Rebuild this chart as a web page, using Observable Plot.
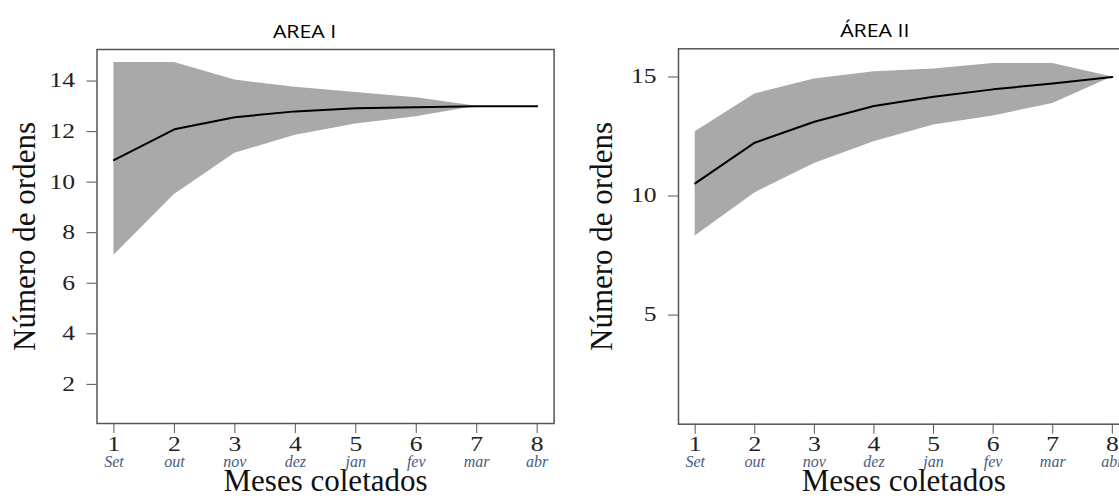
<!DOCTYPE html>
<html>
<head>
<meta charset="utf-8">
<script src="https://cdn.jsdelivr.net/npm/d3@7"></script>
<script src="https://cdn.jsdelivr.net/npm/@observablehq/plot@0.6"></script>
<style>
  html, body { margin: 0; padding: 0; background: #fff; overflow: hidden; }
  #wrap { position: relative; width: 1119px; height: 500px; overflow: hidden; background: #fff; }
  #left { position: absolute; left: 0; top: 0; width: 560px; }
  #right { position: absolute; left: 560px; top: 0; width: 600px; }
  #wrap svg { max-width: none !important; }
</style>
</head>
<body>
<div id="wrap"><div id="left"></div><div id="right"></div></div>
<script>
// ---- data ----
const meses = [1, 2, 3, 4, 5, 6, 7, 8];
const mesesNomes = ["Set", "out", "nov", "dez", "jan", "fev", "mar", "abr"];

const area1Media    = [10.87, 12.09, 12.57, 12.80, 12.92, 12.96, 13.00, 13.00];
const area1Superior = [14.73, 14.73, 14.04, 13.75, 13.55, 13.34, 13.00, 13.00];
const area1Inferior = [7.11, 9.51, 11.14, 11.86, 12.30, 12.59, 13.00, 13.00];

const area2Media    = [10.53, 12.24, 13.12, 13.78, 14.17, 14.48, 14.73, 15.00];
const area2Superior = [12.70, 14.29, 14.92, 15.22, 15.34, 15.57, 15.57, 15.00];
const area2Inferior = [8.32, 10.13, 11.37, 12.28, 12.98, 13.36, 13.89, 15.00];

const ticksY1 = [2, 4, 6, 8, 10, 12, 14];
const ticksY2 = [5, 10, 15];

const titulo1 = "AREA I";
const titulo2 = "ÁREA II";
const rotuloX = "Meses coletados";
const rotuloY = "Número de ordens";

const serif = "'Liberation Serif', 'Times New Roman', serif";
const sans = "'Open Sans', 'Noto Sans', sans-serif";

function rows(media, sup, inf) {
  return meses.map((m, i) => ({mes: m, media: media[i], sup: sup[i], inf: inf[i]}));
}
function meses_rows() {
  return meses.map((m, i) => ({mes: m, nome: mesesNomes[i]}));
}

// widen text horizontally around its own anchor (the reference glyphs are stretched)
function alargar(sel, s) {
  sel.each(function () {
    const t = d3.select(this);
    const xv = parseFloat(t.attr("x"));
    const x0 = isFinite(xv) ? xv : 0;
    const tr = t.attr("transform") || "";
    t.attr("transform", `${tr} translate(${x0},0) scale(${s},1) translate(${-x0},0)`);
  });
}

function painel({data, yDomain, yTicks, width, mL, mR, mT, mB, titulo, tituloDx, yLabelDx}) {
  const svg = Plot.plot({
    width, height: 500,
    marginLeft: mL, marginRight: mR, marginTop: mT, marginBottom: mB,
    style: {fontFamily: serif, fontSize: "20px", background: "white", overflow: "visible", maxWidth: "none"},
    x: {type: "linear", domain: [0.72, 8.28], axis: null},
    y: {type: "linear", domain: yDomain, axis: null},
    marks: [
      Plot.areaY(data, {x: "mes", y1: "inf", y2: "sup", fill: "#a9a9a9", fillOpacity: 1}),
      Plot.lineY(data, {x: "mes", y: "media", stroke: "#000", strokeWidth: 2}),
      Plot.frame({stroke: "#555", strokeWidth: 1.5}),
      Plot.axisY({ticks: yTicks, tickSize: 10, tickPadding: 12, fontSize: 20, fontFamily: serif,
                  stroke: "#555", fill: "#222", label: null, tickFormat: d => String(d)}),
      Plot.axisX({ticks: meses, tickSize: 10, tickPadding: 3, fontSize: 20, fontFamily: serif,
                  stroke: "#555", fill: "#222", label: null, tickFormat: d => String(d)}),
      Plot.text(meses_rows(), {x: "mes", text: "nome", frameAnchor: "bottom", dy: 43, lineAnchor: "bottom",
                  fontSize: 16, fontStyle: "italic", fontFamily: serif, fill: "#4a5b80"}),
      Plot.text([rotuloX], {text: d => d, frameAnchor: "bottom", dy: 67, lineAnchor: "bottom",
                  fontSize: 31, fontFamily: serif, fill: "#111"}),
      Plot.text([rotuloY], {text: d => d, frameAnchor: "left", dx: yLabelDx, rotate: -90, lineAnchor: "bottom",
                  textAnchor: "middle", fontSize: 31, fontFamily: serif, fill: "#111"}),
      Plot.text([titulo], {text: d => d, frameAnchor: "top", dy: -12, dx: tituloDx, lineAnchor: "bottom",
                  fontSize: 19, fontFamily: sans, fill: "#000", className: "titulo"})
    ]
  });
  const root = d3.select(svg);
  const ticks = root.selectAll("g[aria-label*='axis'] text");
  ticks.style("font-family", serif).style("font-size", "20px");
  root.selectAll("g[aria-label*='axis']").style("font-family", serif).style("font-size", "20px");
  alargar(ticks, 1.28);
  alargar(root.selectAll(".titulo text"), 1.12);
  return svg;
}

const p1 = painel({
  data: rows(area1Media, area1Superior, area1Inferior),
  yDomain: [0.452, 15.248], yTicks: ticksY1,
  width: 560, mL: 96.5, mR: 6.4, mT: 49, mB: 77,
  titulo: titulo1, tituloDx: -21, yLabelDx: -62
});
const p2 = painel({
  data: rows(area2Media, area2Superior, area2Inferior),
  yDomain: [0.416, 16.184], yTicks: ticksY2,
  width: 600, mL: 118, mR: 31.5, mT: 48.3, mB: 76.3,
  titulo: titulo2, tituloDx: -29, yLabelDx: -67
});
document.getElementById("left").appendChild(p1);
document.getElementById("right").appendChild(p2);
</script>
</body>
</html>
